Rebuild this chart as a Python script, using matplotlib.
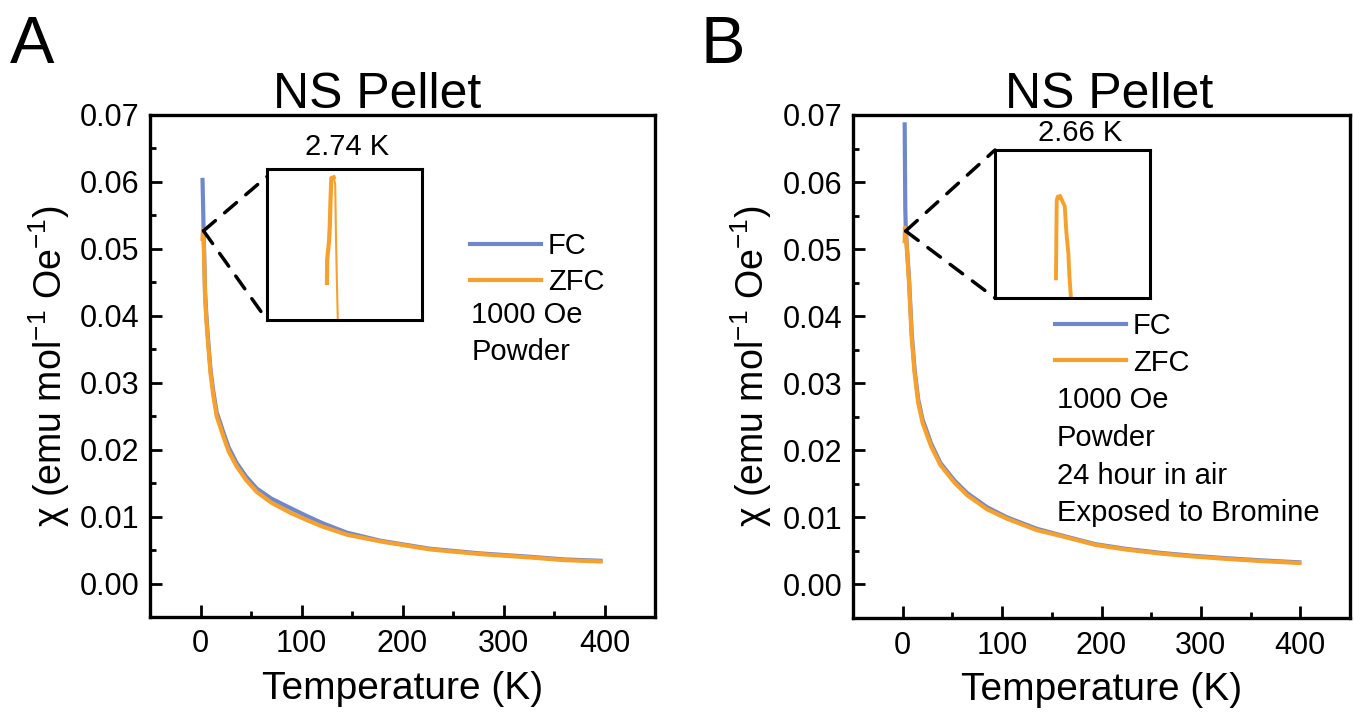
import numpy as np
import matplotlib.pyplot as plt
from matplotlib.patches import ConnectionPatch
from matplotlib.ticker import FormatStrFormatter

plt.rcParams['font.family'] = ['Liberation Sans', 'DejaVu Sans']
plt.rcParams['mathtext.fontset'] = 'custom'
plt.rcParams['mathtext.rm'] = 'Liberation Sans'
plt.rcParams['mathtext.it'] = 'Liberation Sans:italic'

BLUE = '#6f88cb'
ORANGE = '#f8a02c'

##################################################################################
### DATA
##################################################################################

# panel A : NS pellet
temp_a = [2, 2.5, 3, 4.5, 6, 7.7, 10, 12.7, 16, 22.6, 28, 35.8, 45, 55.6, 70,
          88.6, 105, 121, 145, 178, 227, 277, 326, 360, 396]
fc_a = [0.0603, 0.0570, 0.0532, 0.0436, 0.0395, 0.0361, 0.0318, 0.0287, 0.0256,
        0.0226, 0.0203, 0.0180, 0.0160, 0.0142, 0.0127, 0.0113, 0.0101, 0.0090,
        0.0076, 0.0064, 0.0052, 0.0045, 0.0040, 0.0036, 0.0034]
zfc_a = [0.0515, 0.0528, 0.0522, 0.0430, 0.0390, 0.0355, 0.0313, 0.0281, 0.0250,
         0.0220, 0.0197, 0.0175, 0.0155, 0.0137, 0.0121, 0.0106, 0.0095, 0.0085,
         0.0073, 0.0063, 0.0051, 0.0044, 0.0039, 0.0035, 0.0033]

# panel B : NS pellet, 24 h in air, exposed to bromine
temp_b = [2, 2.3, 2.6, 3, 4, 6.4, 9, 12, 15.6, 20, 28.6, 38, 52, 65, 85, 105,
          135, 160, 194, 225, 260, 290, 327, 360, 399]
fc_b = [0.0686, 0.0620, 0.0560, 0.0536, 0.0508, 0.0455, 0.0376, 0.0320, 0.0276,
        0.0246, 0.0210, 0.0181, 0.0155, 0.0136, 0.0115, 0.0100, 0.0083, 0.0073,
        0.0060, 0.0053, 0.0047, 0.0043, 0.0039, 0.0036, 0.0033]
zfc_b = [0.0512, 0.0532, 0.0530, 0.0526, 0.0504, 0.0450, 0.0369, 0.0315, 0.0271,
         0.0241, 0.0206, 0.0178, 0.0152, 0.0133, 0.0112, 0.0098, 0.0081, 0.0072,
         0.0059, 0.0052, 0.0046, 0.0042, 0.0038, 0.0035, 0.0032]

# zoomed ZFC peaks shown in the insets
ins_a_up_t = [2.722, 2.723, 2.730, 2.733, 2.736, 2.739, 2.748]
ins_a_up_chi = [0.052245, 0.05240, 0.05252, 0.05262, 0.05280, 0.05294, 0.052945]
ins_a_dn_t = [2.748, 2.754, 2.757, 2.760, 2.764, 2.766]
ins_a_dn_chi = [0.052945, 0.05290, 0.05255, 0.05230, 0.05200, 0.05195]

ins_b_t = [2.646, 2.648, 2.649, 2.653, 2.659, 2.662, 2.668, 2.680, 2.686,
           2.694, 2.698, 2.704, 2.705]
ins_b_chi = [0.052133, 0.05250, 0.05266, 0.052685, 0.052675, 0.05269, 0.052665,
             0.05262, 0.05245, 0.05230, 0.05215, 0.05200, 0.05195]

peak_labels = ['2.74 K', '2.66 K']
notes_a = ['1000 Oe', 'Powder']
notes_b = ['1000 Oe', 'Powder', '24 hour in air', 'Exposed to Bromine']

##################################################################################
### FIGURE
##################################################################################

fig = plt.figure(figsize=(13.54, 7.21), dpi=100)
ax_a = fig.add_axes([150 / 1354, 1 - 617 / 721, 505 / 1354, 502 / 721])
ax_b = fig.add_axes([853 / 1354, 1 - 618 / 721, 497 / 1354, 503 / 721])


def style_axes(ax):
    ax.set_xlim(-50, 450)
    ax.set_ylim(-0.005, 0.07)
    ax.set_xticks([0, 100, 200, 300, 400])
    ax.set_xticks([50, 150, 250, 350], minor=True)
    ax.set_yticks(np.linspace(0, 0.07, 8))
    ax.set_yticks(np.linspace(0.005, 0.065, 7), minor=True)
    ax.yaxis.set_major_formatter(FormatStrFormatter('%.2f'))
    ax.tick_params(which='major', direction='in', length=8.5, width=2, labelsize=22)
    ax.tick_params(which='minor', direction='in', length=4, width=2)
    ax.tick_params(axis='x', pad=9)
    ax.tick_params(axis='y', pad=7.5)
    for s in ax.spines.values():
        s.set_linewidth(2.4)
    ax.set_xlabel('Temperature (K)', fontsize=28, labelpad=8)
    ax.set_ylabel('χ (emu mol$^{-1}$ Oe$^{-1}$)', fontsize=27, labelpad=6)


def add_inset(ax, rect, xlim, label, label_xy, top_target):
    ins = fig.add_axes(rect)
    ins.set_xlim(*xlim)
    ins.set_ylim(0.0520, 0.0530)
    ins.set_xticks([])
    ins.set_yticks([])
    for s in ins.spines.values():
        s.set_linewidth(2.2)
    ins.text(label_xy[0], label_xy[1], label, transform=ins.transAxes,
             ha='center', va='center', fontsize=21)
    for target in [top_target, (0, 0)]:
        con = ConnectionPatch(xyA=(3, 0.0527), coordsA=ax.transData,
                              xyB=target, coordsB=ins.transAxes,
                              color='k', lw=2.5, linestyle=(0, (4.5, 3.5)))
        fig.add_artist(con)
    return ins


# ---- panel A
ax_a.plot(temp_a, fc_a, color=BLUE, lw=3, label='FC')
ax_a.plot(temp_a, zfc_a, color=ORANGE, lw=3, label='ZFC')
style_axes(ax_a)
ax_a.text(0.45, 1 + 7 / 502, 'NS Pellet', transform=ax_a.transAxes,
          ha='center', va='baseline', fontsize=36)
ax_a.legend(loc='upper left', bbox_to_anchor=(0.634, 0.767), frameon=False,
            fontsize=21, handlelength=2.43, handletextpad=0.24,
            labelspacing=0.29, borderpad=0, borderaxespad=0)
for i, note in enumerate(notes_a):
    ax_a.text(0.636, 0.602 - i * 0.074, note, transform=ax_a.transAxes,
              ha='left', va='center', fontsize=21)

ins_a = add_inset(ax_a, [267 / 1354, 1 - 320 / 721, 155 / 1354, 151 / 721],
                  (2.49, 3.09), peak_labels[0], (0.516, 1.146), (0, 0.95))
ins_a.plot(ins_a_up_t, ins_a_up_chi, color=ORANGE, lw=3)
ins_a.plot(ins_a_dn_t, ins_a_dn_chi, color=ORANGE, lw=1.5)

# ---- panel B
ax_b.plot(temp_b, fc_b, color=BLUE, lw=3, label='FC')
ax_b.plot(temp_b, zfc_b, color=ORANGE, lw=3, label='ZFC')
style_axes(ax_b)
ax_b.text(0.516, 1 + 7 / 503, 'NS Pellet', transform=ax_b.transAxes,
          ha='center', va='baseline', fontsize=36)
ax_b.legend(loc='upper left', bbox_to_anchor=(0.406, 0.608), frameon=False,
            fontsize=21, handlelength=2.43, handletextpad=0.24,
            labelspacing=0.29, borderpad=0, borderaxespad=0)
for i, note in enumerate(notes_b):
    ax_b.text(0.41, 0.433 - i * 0.075, note, transform=ax_b.transAxes,
              ha='left', va='center', fontsize=21)

ins_b = add_inset(ax_b, [995 / 1354, 1 - 298 / 721, 155 / 1354, 148 / 721],
                  (2.41, 3.01), peak_labels[1], (0.548, 1.115), (0, 1))
ins_b.plot(ins_b_t, ins_b_chi, color=ORANGE, lw=2.8)

fig.text(10 / 1354, 1 - 63 / 721, 'A', fontsize=48, ha='left', va='baseline')
fig.text(700 / 1354, 1 - 63 / 721, 'B', fontsize=48, ha='left', va='baseline')

fig.savefig('out.png', dpi=100)
